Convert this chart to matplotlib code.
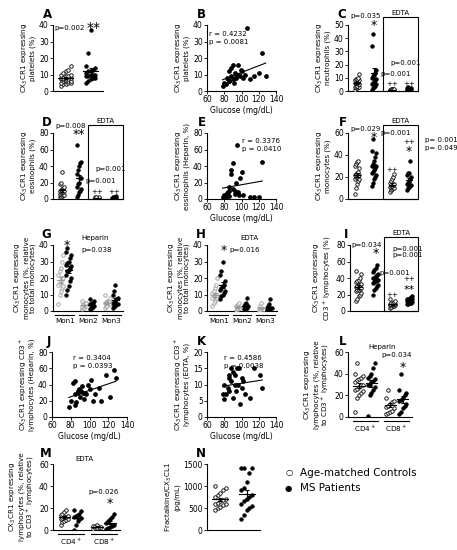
import matplotlib
matplotlib.use("Agg")
import matplotlib.pyplot as plt
import numpy as np
from matplotlib.patches import Rectangle

# ---------------- data ----------------
A_ctrl = [3,4,4,5,5,5,6,6,6,6,7,7,7,7,8,8,8,9,9,10,10,11,12,15,13]
A_ms = [5,6,7,8,8,9,9,10,10,10,11,12,12,13,14,15,23,37]
B_glu = [78,80,82,83,85,86,88,88,90,90,92,93,95,96,98,100,102,104,106,110,115,120,124,128,86,94,99,84,91,97]
B_val = [3,5,4,8,6,12,9,14,7,16,11,8,10,16,9,12,8,10,38,7,9,11,23,9,6,8,13,7,5,10]
C_ctrl = [1,2,2,3,3,3,4,4,5,5,6,6,7,7,8,8,9,9,10,13]
C_ms = [1,2,3,4,5,5,6,7,8,9,10,11,12,14,16,34,43,54]
C_ctrlE = [0.2,0.3,0.4,0.5,0.5,0.6,0.7,0.8,0.9,1,1,1.2,1.3,1.5,1.6]
C_msE = [0.2,0.4,0.5,0.7,0.8,1,1.2,1.5,2,2.5,3,1.8]
D_ctrl = [2,3,4,5,5,6,7,8,9,10,10,11,12,13,14,18,20,33]
D_ms = [3,5,8,10,12,15,18,20,25,25,30,35,40,44,45,65]
D_ctrlE = [0.2,0.3,0.5,0.6,0.8,1,1,1.2,1.5,2,2.5,3]
D_msE = [0.3,0.5,0.8,1,1.2,1.5,2,2.5,3,4]
E_glu = [78,80,82,84,85,86,88,88,90,90,92,94,95,96,98,100,102,110,115,120,124,86,92,97,83]
E_val = [2,5,3,8,10,4,30,35,12,44,6,20,66,8,25,33,5,3,2,2,45,15,10,5,7]
F_ctrl = [5,10,14,16,18,18,20,20,21,22,22,23,24,25,28,30,32,34,35]
F_ms = [12,15,18,20,22,24,25,26,28,30,30,32,35,38,42,44,55]
F_ctrlE = [6,8,9,10,10,11,12,12,13,14,15,16,18,20,23]
F_msE = [8,10,11,12,13,14,15,16,18,20,22,24,35,24]
G_ctrl = [[4,10,12,14,15,16,17,18,20,20,22,24,26,30,34],[1,2,2,3,3,3,4,4,5,5,6],[2,3,3,4,4,5,5,6,6,8,10]]
G_ms = [[10,13,15,18,20,22,24,25,26,27,28,29,30,32,34,36,38],[1,2,2,3,3,4,4,5,5,6,7],[2,3,3,4,4,5,5,6,7,8,10,12,16]]
H_ctrl = [[3,5,6,7,8,8,9,9,10,10,11,12,14,16,20],[0.5,1,1,2,2,3,3,4,5],[0.3,0.5,1,1,1.5,2,3,5]]
H_ms = [[7,9,10,11,12,13,14,15,16,18,22,24,30],[1,1,2,2,3,3,4,5,8],[0.5,1,1,1,2,2,3,4,7]]
I_ctrl = [12,15,18,20,22,24,25,26,27,28,29,30,31,32,33,35,36,38,40,45,48]
I_ms = [20,25,28,30,32,34,35,36,37,38,40,40,42,44,45,47,50,52,56]
I_ctrlE = [4,5,6,6,7,7,8,8,8,9,9,10,10,11,12,14]
I_msE = [8,9,10,10,11,12,12,13,13,14,14,15,16,17,18]
J_glu = [78,80,82,84,85,86,88,89,90,91,92,94,95,96,98,100,102,104,106,110,112,118,122,126,128,84,88,93]
J_val = [12,20,42,15,28,18,30,35,25,32,38,22,30,28,40,35,45,20,28,36,20,52,25,58,48,44,32,30]
K_glu = [78,80,80,82,84,85,86,88,88,90,90,92,94,95,96,98,100,100,102,104,110,115,122,124,86,92,97]
K_val = [7,10,5.5,7,9,13,8,11,15,14,6,13,8,15,10,4,12,9,11,7,6,15,13,9,12,10,15]
L_ctrl = [[5,18,20,22,24,25,26,28,30,30,32,34,35,36,38,40,50],[3,4,5,6,8,9,10,12,14,15,18,25]]
L_ms = [[1,20,22,25,28,30,30,32,33,35,36,38,40,45,50],[3,5,8,10,12,15,16,18,20,22,25,40]]
M_ctrl = [[5,7,8,9,10,10,11,12,12,13,14,15,16,18],[1,2,2,3,3,4,4,5]]
M_ms = [[0,5,8,10,11,12,13,14,15,17,18],[1,2,3,4,5,6,8,10,12,15]]
N_ctrl = [450,500,520,560,580,600,620,650,680,700,750,800,850,900,950,1000]
N_ms = [250,350,450,500,550,600,650,700,750,800,900,950,1100,1300,1400,1400,1400]

fs = 5.5
plt.rcParams['font.family'] = ['DejaVu Sans']
fig = plt.figure(figsize=(4.57, 5.5), dpi=100)
W, H = 457, 550

def mkax(l, r, t, b):
    ax = fig.add_axes([l / W, 1 - b / H, (r - l) / W, (b - t) / H])
    for s in ['top', 'right']:
        ax.spines[s].set_visible(False)
    for s in ['left', 'bottom']:
        ax.spines[s].set_linewidth(0.8)
    ax.tick_params(labelsize=fs, length=2, width=0.6, pad=1)
    return ax

def letter(ax, t):
    ax.text(-0.02, 1.06, t, transform=ax.transAxes, fontsize=8.5, fontweight='bold', ha='right', va='bottom')

def strip(ax, pos, vals, opn, w=0.3, color='black', ms=2.5):
    v = np.sort(np.array(vals, float))
    n = len(v)
    off = np.array([((i % 5) - 2) * w / 5.0 for i in range(n)])
    ax.plot(pos + off, v, 'o', ms=ms, mfc='white' if opn else color, mec=color, mew=0.6, ls='none', zorder=3)
    m = v.mean(); se = v.std(ddof=1) / np.sqrt(n)
    ax.plot([pos - w * 0.6, pos + w * 0.6], [m, m], color=color, lw=0.8, zorder=4)
    ax.errorbar([pos], [m], yerr=[se], color=color, lw=0.8, capsize=1.5, capthick=0.8, zorder=4)

def ylab(ax, s):
    ax.set_ylabel(s, fontsize=5.1, labelpad=2, linespacing=1.05)

def scatter(ax, x, y, ylim, yt):
    ax.plot(x, y, 'o', ms=2.4, color='black', ls='none')
    k, c = np.polyfit(x, y, 1)
    xx = np.array([min(x), max(x)])
    ax.plot(xx, k * xx + c, color='black', lw=0.8)
    ax.set_xlim(60, 140); ax.set_xticks([60, 80, 100, 120, 140])
    ax.set_ylim(*ylim); ax.set_yticks(yt)
    ax.set_xlabel('Glucose (mg/dL)', fontsize=fs, labelpad=1)

def four(ax, a, b, c, d, ylim, yt):
    strip(ax, 0, a, True); strip(ax, 1, b, False); strip(ax, 2, c, True); strip(ax, 3, d, False)
    ax.set_xlim(-0.5, 3.5); ax.set_xticks([])
    ax.set_ylim(*ylim); ax.set_yticks(yt)
    top = ylim[1] * 1.12
    ax.add_patch(Rectangle((1.5, ylim[0]), 2.0, top - ylim[0], fill=False, lw=0.8, clip_on=False, zorder=5))
    ax.text(2.5, top * 1.02, 'EDTA', ha='center', va='bottom', fontsize=fs - 0.5)

def groups(ax, names, xs):
    for n, x in zip(names, xs):
        ax.plot([x - 0.4, x + 0.4], [-0.06, -0.06], transform=ax.get_xaxis_transform(), color='black', lw=0.8, clip_on=False)
        ax.text(x, -0.1, n, transform=ax.get_xaxis_transform(), ha='center', va='top', fontsize=fs - 0.3)

def txt(ax, x, y, s, f=fs - 0.5, **kw):
    ax.text(x, y, s, fontsize=f, **kw)

# ---- A
ax = mkax(53, 103, 25, 91); letter(ax, 'A')
strip(ax, 0, A_ctrl, True, w=0.5); strip(ax, 1, A_ms, False, w=0.5)
ax.set_xlim(-0.5, 1.5); ax.set_xticks([]); ax.set_ylim(0, 40); ax.set_yticks([0, 10, 20, 30, 40])
ylab(ax, 'CX$_3$CR1 expressing\nplatelets (%)')
txt(ax, -0.45, 38, 'p=0.002', va='center'); txt(ax, 0.85, 38, '**', f=10, va='center')
# ---- B
ax = mkax(207, 276, 25, 91); letter(ax, 'B')
scatter(ax, B_glu, B_val, (0, 40), [0, 10, 20, 30, 40])
ylab(ax, 'CX$_3$CR1 expressing\nplatelets (%)')
txt(ax, 62, 32, 'r = 0.4232\np = 0.0081', linespacing=1.4, va='center')
# ---- C
ax = mkax(348, 418, 25, 91); letter(ax, 'C')
four(ax, C_ctrl, C_ms, C_ctrlE, C_msE, (0, 50), [0, 10, 20, 30, 40, 50])
ylab(ax, 'CX$_3$CR1 expressing\nneutrophils (%)')
txt(ax, 0.5, 55, 'p=0.035', ha='center'); txt(ax, 1, 47, '*', f=9, ha='center')
txt(ax, 2.8, 20, 'p=0.001', ha='center'); txt(ax, 2.2, 11, 'p=0.001', ha='center')
txt(ax, 2, 4, '++', ha='center'); txt(ax, 3, 4, '++', ha='center')
# ---- D
ax = mkax(53, 123, 133, 199); letter(ax, 'D')
four(ax, D_ctrl, D_ms, D_ctrlE, D_msE, (0, 80), [0, 20, 40, 60, 80])
ylab(ax, 'CX$_3$CR1 expressing\neosinophils (%)')
txt(ax, 0.5, 86, 'p=0.008', ha='center'); txt(ax, 1, 74, '**', f=9, ha='center')
txt(ax, 2.8, 34, 'p=0.001', ha='center'); txt(ax, 2.2, 20, 'p=0.001', ha='center')
txt(ax, 2, 6, '++', ha='center'); txt(ax, 3, 6, '++', ha='center')
# ---- E
ax = mkax(207, 276, 133, 199); letter(ax, 'E')
scatter(ax, E_glu, E_val, (0, 80), [0, 20, 40, 60, 80])
ylab(ax, 'CX$_3$CR1 expressing\neosinophils (Heparin, %)')
txt(ax, 101, 65, 'r = 0.3376\np = 0.0410', linespacing=1.4, va='center')
# ---- F
ax = mkax(348, 418, 133, 199); letter(ax, 'F')
four(ax, F_ctrl, F_ms, F_ctrlE, F_msE, (0, 60), [0, 20, 40, 60])
ylab(ax, 'CX$_3$CR1 expressing\nmonocytes (%)')
txt(ax, 0.5, 62, 'p=0.029', ha='center'); txt(ax, 1, 53, '*', f=9, ha='center')
txt(ax, 2.2, 58, 'p=0.001', ha='center'); txt(ax, 3, 50, '++', ha='center'); txt(ax, 3, 40, '*', f=9, ha='center')
txt(ax, 2, 25, '++', ha='center'); txt(ax, 3.9, 50, 'p= 0.001\np= 0.049', linespacing=1.4, va='center')
# ---- G, H
for L, pos, C, M in [('G', 53, G_ctrl, G_ms), ('H', 207, H_ctrl, H_ms)]:
    ax = mkax(pos, pos + 70, 245, 311); letter(ax, L)
    for i in range(3):
        strip(ax, i * 1.0 - 0.17, C[i], True, w=0.25, color='#999999')
        strip(ax, i * 1.0 + 0.17, M[i], False, w=0.25)
    ax.set_xlim(-0.5, 2.5); ax.set_xticks([]); ax.set_ylim(0, 40); ax.set_yticks([0, 10, 20, 30, 40])
    groups(ax, ['Mon1', 'Mon2', 'Mon3'], [0, 1, 2])
    ylab(ax, 'CX$_3$CR1 expressing\nmonocytes (%, relative\nto total monocytes)')
    if L == 'G':
        txt(ax, 0.1, 40, '*', f=9, ha='center', va='center')
        txt(ax, 0.7, 43, 'Heparin'); txt(ax, 0.7, 36, 'p=0.038')
    else:
        txt(ax, 1.3, 43, 'EDTA', ha='center')
        txt(ax, 0.2, 36.5, '*', f=9, ha='center', va='center'); txt(ax, 0.45, 36, 'p=0.016')
# ---- I
ax = mkax(350, 418, 245, 311); letter(ax, 'I')
four(ax, I_ctrl, I_ms, I_ctrlE, I_msE, (0, 80), [0, 20, 40, 60, 80])
ylab(ax, 'CX$_3$CR1 expressing\nCD3$^+$ lymphocytes (%)')
txt(ax, 0.5, 78, 'p=0.034', ha='center'); txt(ax, 1, 66, '*', f=9, ha='center')
txt(ax, 2.9, 65, 'p=0.001\np=0.001', ha='center', linespacing=1.1)
txt(ax, 2.1, 44, 'p=0.001', ha='center'); txt(ax, 3, 36, '++', ha='center'); txt(ax, 3, 22, '**', f=8, ha='center')
txt(ax, 2, 17, '++', ha='center')
# ---- J, K
ax = mkax(52, 127, 352, 417); letter(ax, 'J')
scatter(ax, J_glu, J_val, (0, 80), [0, 20, 40, 60, 80])
ylab(ax, 'CX$_3$CR1 expressing CD3$^+$\nlymphocytes (Heparin, %)')
txt(ax, 82, 68, 'r = 0.3404\np = 0.0393', linespacing=1.4, va='center')
ax = mkax(207, 276, 352, 417); letter(ax, 'K')
scatter(ax, K_glu, K_val, (0, 20), [0, 5, 10, 15, 20])
ylab(ax, 'CX$_3$CR1 expressing CD3$^+$\nlymphocytes (EDTA, %)')
txt(ax, 80, 17, 'r = 0.4586\np = 0.0038', linespacing=1.4, va='center')
# ---- L, M
for L, (l, r, t, b), C, M in [('L', (348, 412, 352, 417), L_ctrl, L_ms), ('M', (53, 120, 464, 530), M_ctrl, M_ms)]:
    ax = mkax(l, r, t, b); letter(ax, L)
    for i in range(2):
        strip(ax, i - 0.2, C[i], True, w=0.3)
        strip(ax, i + 0.2, M[i], False, w=0.3)
    ax.set_xlim(-0.55, 1.5); ax.set_xticks([]); ax.set_ylim(0, 60); ax.set_yticks([0, 20, 40, 60])
    groups(ax, ['CD4$^+$', 'CD8$^+$'], [0, 1])
    ylab(ax, 'CX$_3$CR1 expressing\nlymphocytes (%, relative\nto CD3$^+$ lymphocytes)')
    if L == 'L':
        txt(ax, 0.55, 63, 'Heparin', ha='center'); txt(ax, 1.0, 55, 'p=0.034', ha='center')
        txt(ax, 1.2, 46, '*', f=9, ha='center', va='center')
    else:
        txt(ax, 0.4, 63, 'EDTA', ha='center'); txt(ax, 1.0, 33, 'p=0.026', ha='center')
        txt(ax, 1.2, 24, '*', f=9, ha='center', va='center')
# ---- N
ax = mkax(207, 260, 464, 530); letter(ax, 'N')
strip(ax, 0, N_ctrl, True, w=0.5); strip(ax, 1, N_ms, False, w=0.5)
ax.set_xlim(-0.5, 1.5); ax.set_xticks([]); ax.set_ylim(0, 1500); ax.set_yticks([0, 500, 1000, 1500])
ylab(ax, 'Fractalkine/CX$_3$CL1\n(pg/mL)')
# legend
fig.text(285 / W, 1 - 473 / H, '\u25CB', fontsize=6, va='center')
fig.text(300 / W, 1 - 473 / H, 'Age-matched Controls', fontsize=7.5, va='center')
fig.text(285 / W, 1 - 488 / H, '\u25CF', fontsize=6, va='center')
fig.text(300 / W, 1 - 488 / H, 'MS Patients', fontsize=7.5, va='center')

fig.savefig('out.png', dpi=100)
